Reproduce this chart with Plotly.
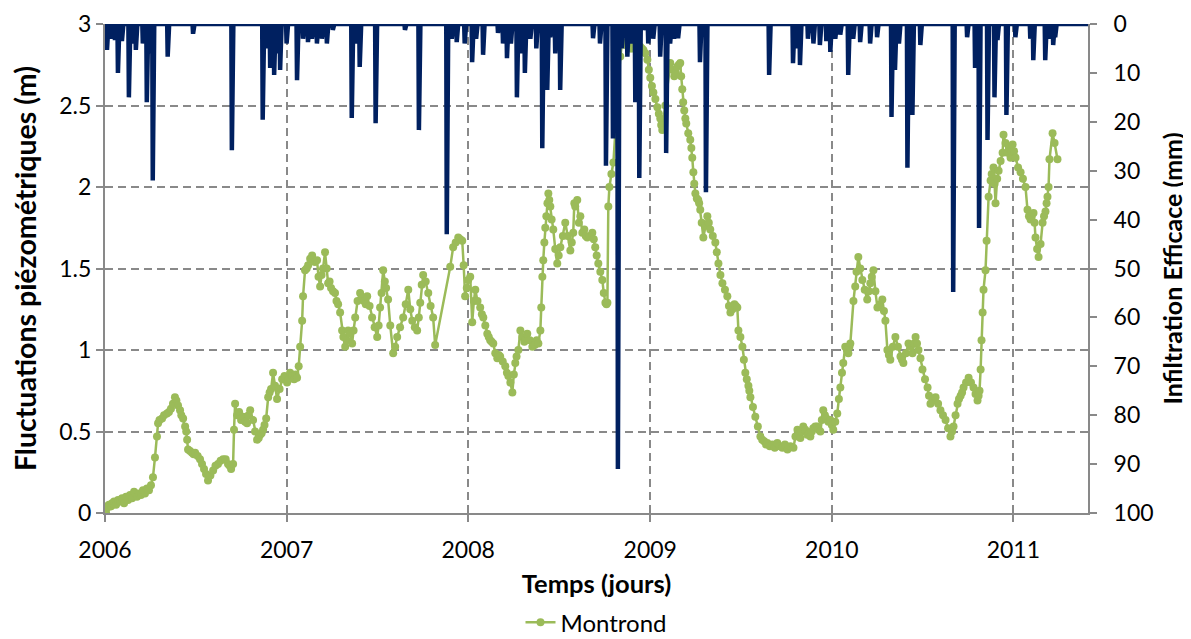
import pandas as pd
import numpy as np
import plotly.graph_objects as go

# ---------------- data ----------------
# Piezometric level, Montrond (m) – time in decimal years
piezo_t = [2006.000, 2006.006, 2006.011, 2006.022, 2006.033, 2006.039, 2006.050, 2006.061, 2006.072, 2006.083,
           2006.094, 2006.105, 2006.116, 2006.127, 2006.138, 2006.149, 2006.160, 2006.176, 2006.187, 2006.198,
           2006.209, 2006.220, 2006.231, 2006.242, 2006.253, 2006.264,
           2006.275, 2006.286, 2006.292, 2006.314, 2006.341, 2006.363, 2006.385, 2006.402, 2006.413, 2006.430,
           2006.441, 2006.452, 2006.457, 2006.479, 2006.496, 2006.523, 2006.545, 2006.567, 2006.595, 2006.622,
           2006.650, 2006.677, 2006.694, 2006.705, 2006.710, 2006.716, 2006.738, 2006.760, 2006.782, 2006.799,
           2006.815, 2006.837, 2006.854, 2006.870, 2006.887, 2006.898, 2006.914, 2006.925, 2006.947, 2006.975,
           2007.002, 2007.019, 2007.041, 2007.057, 2007.074, 2007.085, 2007.090, 2007.101, 2007.118, 2007.140,
           2007.167, 2007.184, 2007.200, 2007.211, 2007.228, 2007.244, 2007.266, 2007.283, 2007.294, 2007.305,
           2007.322, 2007.338, 2007.360, 2007.377, 2007.404, 2007.426, 2007.443, 2007.470, 2007.498, 2007.514,
           2007.531, 2007.547, 2007.558, 2007.586, 2007.608, 2007.641, 2007.669, 2007.691, 2007.718, 2007.735,
           2007.751, 2007.779, 2007.806, 2007.817, 2007.900, 2007.916, 2007.944, 2007.966, 2007.982, 2007.999,
           2008.010, 2008.021, 2008.038, 2008.065, 2008.082, 2008.104, 2008.120, 2008.137, 2008.159, 2008.175,
           2008.203, 2008.220, 2008.231, 2008.242, 2008.258, 2008.275, 2008.286, 2008.308, 2008.324, 2008.352,
           2008.385, 2008.396, 2008.401, 2008.407, 2008.418, 2008.429, 2008.440, 2008.451, 2008.467, 2008.489,
           2008.506, 2008.533, 2008.561, 2008.577, 2008.588, 2008.599, 2008.616, 2008.638, 2008.654, 2008.682,
           2008.698, 2008.715, 2008.737, 2008.754, 2008.765, 2008.770, 2008.776, 2008.787, 2008.798, 2008.815,
           2008.836, 2008.847, 2008.869, 2008.902, 2008.935, 2008.963, 2008.985, 2009.001, 2009.018, 2009.040,
           2009.056, 2009.067, 2009.084, 2009.111, 2009.133, 2009.150, 2009.166, 2009.177, 2009.188, 2009.199,
           2009.221, 2009.232, 2009.238, 2009.249, 2009.265, 2009.276, 2009.293, 2009.315, 2009.331, 2009.359,
           2009.376, 2009.398, 2009.425, 2009.442, 2009.464, 2009.480, 2009.486, 2009.508, 2009.524, 2009.541,
           2009.552, 2009.579, 2009.607, 2009.617, 2009.628, 2009.638, 2009.645, 2009.659, 2009.673, 2009.686,
           2009.700, 2009.714, 2009.728, 2009.742, 2009.756, 2009.772, 2009.789, 2009.800,
           2009.811, 2009.827, 2009.843, 2009.865, 2009.882, 2009.898, 2009.920, 2009.937, 2009.953, 2009.970,
           2009.992, 2010.008, 2010.030, 2010.047, 2010.063, 2010.074, 2010.091, 2010.102, 2010.119, 2010.129,
           2010.146, 2010.168, 2010.195, 2010.212, 2010.229, 2010.251, 2010.278, 2010.295, 2010.306, 2010.322,
           2010.350, 2010.378, 2010.394, 2010.422, 2010.444, 2010.461, 2010.477, 2010.499, 2010.527, 2010.543,
           2010.571, 2010.598, 2010.626, 2010.653, 2010.670, 2010.692, 2010.709, 2010.725, 2010.753, 2010.780,
           2010.802, 2010.813, 2010.819, 2010.824, 2010.830, 2010.835, 2010.846, 2010.852, 2010.863, 2010.874,
           2010.890, 2010.901, 2010.918, 2010.940, 2010.945, 2010.967, 2010.984, 2010.995, 2011.011, 2011.039,
           2011.066, 2011.077, 2011.094, 2011.110, 2011.121, 2011.138, 2011.160, 2011.176, 2011.187, 2011.193,
           2011.198, 2011.215, 2011.226, 2011.242,
           # additional readings between the above
           2006.300, 2006.325, 2006.352, 2006.374, 2006.393, 2006.420, 2006.447, 2006.468, 2006.488, 2006.510,
           2006.534, 2006.556, 2006.580, 2006.608, 2006.636, 2006.664, 2006.686, 2006.727, 2006.749, 2006.771,
           2006.790, 2006.826, 2006.846, 2006.862, 2006.878, 2006.906, 2006.936, 2006.961, 2006.988,
           2007.011, 2007.030, 2007.049, 2007.066, 2007.110, 2007.129, 2007.155, 2007.175, 2007.192, 2007.220,
           2007.236, 2007.255, 2007.274, 2007.312, 2007.330, 2007.349, 2007.368, 2007.390, 2007.415, 2007.435,
           2007.456, 2007.484, 2007.506, 2007.522, 2007.540, 2007.570, 2007.597, 2007.624, 2007.655, 2007.680,
           2007.705, 2007.727, 2007.743, 2007.765, 2007.792, 2007.930, 2007.955, 2007.974, 2007.991,
           2008.030, 2008.050, 2008.074, 2008.093, 2008.112, 2008.128, 2008.148, 2008.167, 2008.189, 2008.212,
           2008.250, 2008.265, 2008.297, 2008.316, 2008.338, 2008.365, 2008.376, 2008.412, 2008.423, 2008.435,
           2008.445, 2008.458, 2008.478, 2008.497, 2008.520, 2008.547, 2008.569, 2008.583, 2008.608, 2008.627,
           2008.646, 2008.668, 2008.690, 2008.706, 2008.726, 2008.745, 2008.760,
           2008.858, 2008.880, 2008.891, 2008.913, 2008.924, 2008.946, 2008.955, 2008.974, 2008.993,
           2009.010, 2009.029, 2009.048, 2009.061, 2009.122, 2009.142, 2009.158, 2009.171, 2009.182, 2009.194,
           2009.210, 2009.227, 2009.243, 2009.257, 2009.270, 2009.284, 2009.304, 2009.323, 2009.345, 2009.367,
           2009.387, 2009.412, 2009.434, 2009.453, 2009.472, 2009.497, 2009.516, 2009.532, 2009.546, 2009.566,
           2009.593, 2009.819, 2009.835, 2009.854, 2009.874, 2009.890, 2009.909, 2009.928, 2009.945, 2009.962,
           2009.981, 2010.000, 2010.019, 2010.039, 2010.056, 2010.083, 2010.097,
           2010.136, 2010.157, 2010.181, 2010.204, 2010.220, 2010.240, 2010.265, 2010.287, 2010.314, 2010.336,
           2010.364, 2010.386, 2010.408, 2010.433, 2010.453, 2010.469, 2010.488, 2010.513, 2010.535, 2010.557,
           2010.585, 2010.612, 2010.640, 2010.662, 2010.681, 2010.700, 2010.717, 2010.739, 2010.766, 2010.791,
           2010.808, 2010.880, 2010.896, 2010.910, 2010.929, 2010.956, 2010.975, 2010.990, 2011.003, 2011.025,
           2011.052, 2011.085, 2011.100, 2011.116, 2011.130, 2011.149, 2011.168, 2011.182]
piezo_m = [0.04, 0.00, 0.03, 0.05, 0.04, 0.06, 0.07, 0.05, 0.08, 0.07,
           0.09, 0.06, 0.10, 0.08, 0.11, 0.09, 0.13, 0.10, 0.12, 0.11,
           0.14, 0.12, 0.15, 0.14, 0.17, 0.22,
           0.34, 0.47, 0.55, 0.58, 0.61, 0.64, 0.71, 0.66, 0.63, 0.58,
           0.53, 0.45, 0.39, 0.37, 0.37, 0.33, 0.27, 0.20, 0.26, 0.30,
           0.33, 0.30, 0.27, 0.30, 0.51, 0.67, 0.62, 0.59, 0.55, 0.63,
           0.57, 0.45, 0.48, 0.51, 0.58, 0.71, 0.76, 0.86, 0.70, 0.82,
           0.80, 0.86, 0.82, 0.83, 1.02, 1.18, 1.33, 1.49, 1.52, 1.58,
           1.55, 1.39, 1.50, 1.60, 1.41, 1.38, 1.35, 1.28, 1.23, 1.12,
           1.02, 1.12, 1.04, 1.20, 1.35, 1.30, 1.33, 1.20, 1.08, 1.26,
           1.49, 1.38, 1.31, 0.98, 1.08, 1.20, 1.37, 1.18, 1.12, 1.29,
           1.46, 1.35, 1.20, 1.03, 1.51, 1.63, 1.69, 1.67, 1.33, 1.43,
           1.45, 1.17, 1.37, 1.26, 1.20, 1.10, 1.06, 1.04, 0.95, 0.96,
           0.90, 0.84, 0.80, 0.74, 0.92, 1.00, 1.12, 1.05, 1.10, 1.02,
           1.04, 1.12, 1.26, 1.45, 1.66, 1.82, 1.96, 1.88, 1.74, 1.53,
           1.63, 1.78, 1.61, 1.72, 1.88, 1.92, 1.82, 1.74, 1.69, 1.72,
           1.63, 1.53, 1.43, 1.29, 1.29, 1.88, 2.00, 2.08, 2.15, 2.45,
           2.80, 2.89, 2.87, 2.85, 2.86, 2.84, 2.78, 2.67, 2.58, 2.49,
           2.42, 2.35, 2.50, 2.76, 2.68, 2.74, 2.76, 2.60, 2.47, 2.39,
           2.29, 2.18, 2.09, 1.96, 1.92, 1.86, 1.69, 1.82, 1.74, 1.66,
           1.53, 1.41, 1.33, 1.23, 1.28, 1.26, 1.12, 1.02, 0.86, 0.78,
           0.71, 0.59, 0.47, 0.45, 0.44, 0.42, 0.43, 0.41, 0.42, 0.40,
           0.43, 0.41, 0.40, 0.42, 0.39, 0.41, 0.40, 0.47,
           0.51, 0.46, 0.53, 0.48, 0.47, 0.52, 0.53, 0.50, 0.63, 0.58,
           0.57, 0.51, 0.61, 0.77, 0.92, 1.02, 0.98, 1.04, 1.30, 1.39,
           1.57, 1.43, 1.31, 1.41, 1.49, 1.26, 1.31, 1.18, 1.00, 0.94,
           1.08, 0.96, 0.92, 1.04, 0.98, 1.08, 1.00, 0.88, 0.77, 0.67,
           0.71, 0.63, 0.57, 0.47, 0.53, 0.67, 0.72, 0.77, 0.83, 0.77,
           0.69, 0.75, 0.88, 1.06, 1.23, 1.37, 1.49, 1.67, 1.94, 2.04,
           2.12, 1.90, 2.10, 2.21, 2.32, 2.21, 2.18, 2.26, 2.18, 2.09,
           2.00, 1.86, 1.80, 1.84, 1.69, 1.57, 1.78, 1.85, 1.94, 2.00,
           2.17, 2.33, 2.27, 2.17,
           # additional readings
           0.57, 0.60, 0.62, 0.67, 0.69, 0.60, 0.50, 0.38, 0.36, 0.35,
           0.30, 0.24, 0.23, 0.29, 0.32, 0.33, 0.29, 0.60, 0.57, 0.56,
           0.60, 0.50, 0.46, 0.49, 0.54, 0.74, 0.78, 0.76, 0.84,
           0.82, 0.84, 0.85, 0.90, 1.50, 1.56, 1.54, 1.45, 1.46, 1.50,
           1.42, 1.36, 1.30, 1.08, 1.06, 1.10, 1.12, 1.30, 1.32, 1.28,
           1.27, 1.14, 1.15, 1.35, 1.42, 1.15, 1.02, 1.14, 1.28, 1.25,
           1.14, 1.20, 1.40, 1.42, 1.27, 1.66, 1.68, 1.52, 1.38,
           1.30, 1.30, 1.22, 1.15, 1.08, 1.05, 0.98, 0.97, 0.93, 0.86,
           0.85, 0.96, 1.08, 1.07, 1.06, 1.03, 1.06, 1.55, 1.75, 1.90,
           1.92, 1.80, 1.62, 1.58, 1.70, 1.70, 1.66, 1.90, 1.78, 1.72,
           1.70, 1.70, 1.68, 1.58, 1.48, 1.35, 1.28,
           2.88, 2.86, 2.85, 2.87, 2.85, 2.86, 2.85, 2.82, 2.72,
           2.62, 2.54, 2.45, 2.38, 2.72, 2.70, 2.75, 2.68, 2.52, 2.42,
           2.33, 2.24, 2.02, 1.93, 1.90, 1.78, 1.76, 1.78, 1.70, 1.60,
           1.46, 1.37, 1.27, 1.25, 1.27, 1.08, 0.94, 0.82, 0.75, 0.65,
           0.53, 0.49, 0.50, 0.51, 0.49, 0.50, 0.53, 0.51, 0.57, 0.60,
           0.56, 0.54, 0.56, 0.70, 0.86, 1.00, 1.02,
           1.48, 1.50, 1.37, 1.36, 1.45, 1.36, 1.28, 1.24, 0.97, 1.02,
           1.02, 0.94, 0.98, 1.02, 1.04, 1.04, 0.95, 0.82, 0.72, 0.69,
           0.67, 0.60, 0.52, 0.50, 0.60, 0.70, 0.74, 0.80, 0.80, 0.73,
           0.72, 2.08, 2.02, 2.05, 2.16, 2.27, 2.24, 2.22, 2.22, 2.12,
           2.05, 1.82, 1.82, 1.78, 1.62, 1.65, 1.82, 1.90]

# Effective infiltration events (mm) – time in decimal years (all other days = 0)
infil_t = [2006.011, 2006.033, 2006.055, 2006.072, 2006.094, 2006.132, 2006.154, 2006.171, 2006.209, 2006.231,
           2006.248, 2006.264, 2006.347, 2006.485, 2006.699, 2006.870, 2006.887, 2006.909, 2006.931, 2006.947,
           2006.964, 2007.002, 2007.057, 2007.090, 2007.118, 2007.140, 2007.167, 2007.195, 2007.222, 2007.256,
           2007.360, 2007.382, 2007.404, 2007.492, 2007.652, 2007.729, 2007.883, 2007.911, 2007.938, 2007.982,
           2008.021, 2008.043, 2008.082, 2008.164, 2008.192, 2008.214, 2008.236, 2008.269, 2008.291, 2008.313,
           2008.341, 2008.374, 2008.407, 2008.435, 2008.451, 2008.478, 2008.506, 2008.687, 2008.726, 2008.759,
           2008.798, 2008.825, 2008.847, 2008.875, 2008.897, 2008.919, 2008.941, 2008.963, 2008.990, 2009.018,
           2009.056, 2009.089, 2009.111, 2009.133, 2009.155, 2009.277, 2009.310, 2009.657, 2009.789, 2009.806,
           2009.827, 2009.871, 2009.899, 2009.937, 2009.970, 2009.992, 2010.020, 2010.047, 2010.091, 2010.119,
           2010.158, 2010.213, 2010.251, 2010.329, 2010.350, 2010.372, 2010.417, 2010.444, 2010.488, 2010.670,
           2010.747, 2010.791, 2010.813, 2010.857, 2010.896, 2010.912, 2010.962, 2011.011,
           2011.094, 2011.110, 2011.176, 2011.204, 2011.220, 2011.231]
infil_mm = [5.3, 3.0, 3.3, 10.0, 3.5, 15.0, 4.0, 5.3, 4.0, 16.0,
            6.0, 32.0, 6.7, 2.0, 25.8, 19.6, 5.0, 9.0, 10.4, 6.0,
            9.4, 4.0, 11.5, 3.0, 3.7, 3.0, 4.0, 3.0, 4.0, 1.2,
            19.2, 4.0, 8.8, 20.3, 1.2, 21.7, 43.0, 3.0, 3.7, 4.0,
            7.8, 3.0, 6.3, 1.8, 4.0, 7.0, 4.0, 15.0, 6.0, 10.0,
            3.0, 5.0, 25.4, 13.5, 2.7, 6.0, 13.5, 2.9, 4.0, 29.0,
            23.4, 91.0, 5.0, 6.7, 4.0, 16.0, 31.5, 1.2, 4.0, 3.0,
            6.7, 26.4, 4.0, 3.0, 2.9, 7.8, 34.4, 10.4, 8.0, 5.0,
            8.4, 3.0, 4.0, 4.3, 3.5, 5.7, 3.0, 2.2, 10.4, 3.0,
            3.7, 4.0, 2.7, 19.0, 9.4, 4.0, 29.4, 18.6, 4.3, 54.8,
            2.7, 9.0, 41.7, 23.7, 15.0, 3.3, 18.6, 2.7,
            3.0, 7.4, 7.4, 3.0, 4.3, 2.7]

year_ticks = [2006, 2007, 2008, 2009, 2010, 2011]
series_name = "Montrond"
period = ("2006-01-01", "2011-05-31")

# ---------------- helpers ----------------
ORIGIN = pd.Timestamp("2006-01-01")


def to_date(t):
    return ORIGIN + pd.to_timedelta((np.asarray(t) - 2006.0) * 365.25, unit="D")


piezo = pd.DataFrame({"t": piezo_t, "m": piezo_m}).sort_values("t")
piezo_dates = to_date(piezo["t"].values)

days = pd.date_range(period[0], period[1], freq="D")
daily = pd.Series(0.0, index=days)
for d, v in zip(to_date(infil_t).normalize(), infil_mm):
    if d in daily.index:
        daily[d] = max(daily[d], v)

GREEN = "#9BBB59"
NAVY = "#002060"
GRID = "#898989"
FONT = "Lato"

fig = go.Figure()
fig.add_trace(go.Scatter(
    x=piezo_dates, y=piezo["m"].values, name=series_name, mode="lines+markers",
    line=dict(color=GREEN, width=2.5), marker=dict(color=GREEN, size=8),
    yaxis="y",
))
fig.add_trace(go.Scatter(
    x=daily.index, y=daily.values, name="Infiltration", mode="lines",
    line=dict(color=NAVY, width=4.5), yaxis="y2", showlegend=False,
))

# the page body has an 8 px default margin: figure is sized/offset accordingly
fig.update_layout(
    width=1183, height=631,
    margin=dict(l=97, r=103, t=16, b=126, autoexpand=False),
    plot_bgcolor="white", paper_bgcolor="white",
    font=dict(family=FONT, size=23, color="#000000"),
    showlegend=True,
    legend=dict(orientation="h", x=0.5, xanchor="center", y=-0.178, yanchor="top",
                font=dict(size=24), bgcolor="rgba(0,0,0,0)"),
    xaxis=dict(
        type="date", range=[period[0], period[1]], automargin=False,
        tickvals=[f"{y}-01-01" for y in year_ticks], ticktext=[str(y) for y in year_ticks],
        showgrid=True, gridcolor=GRID, griddash="8px,5px", gridwidth=1.5,
        showline=True, linecolor=GRID, linewidth=2,
        ticks="outside", ticklen=7, tickcolor=GRID, tickwidth=1.5, ticklabelstandoff=8,
        title=dict(text="<b>Temps (jours)</b>", font=dict(size=25.5), standoff=14),
        zeroline=False,
    ),
    yaxis=dict(
        range=[0, 3], tickvals=[0, 0.5, 1, 1.5, 2, 2.5, 3], automargin=False,
        ticktext=["0", "0.5", "1", "1.5", "2", "2.5", "3"],
        showgrid=True, gridcolor=GRID, griddash="8px,5px", gridwidth=1.5,
        showline=True, linecolor=GRID, linewidth=2,
        ticks="outside", ticklen=7, tickcolor=GRID, tickwidth=1.5,
        title=dict(text="<b>Fluctuations piézométriques (m)</b>", font=dict(size=28.5), standoff=18),
        zeroline=False,
    ),
    yaxis2=dict(
        range=[100, 0], tickvals=list(range(0, 101, 10)), automargin=False,
        overlaying="y", side="right", showgrid=False,
        showline=True, linecolor=GRID, linewidth=2,
        ticks="outside", ticklen=7, tickcolor=GRID, tickwidth=1.5, ticklabelstandoff=12,
        title=dict(text="<b>Infiltration Efficace (mm)</b>", font=dict(size=25), standoff=12),
        zeroline=False,
    ),
)

fig.write_html("out.html")
